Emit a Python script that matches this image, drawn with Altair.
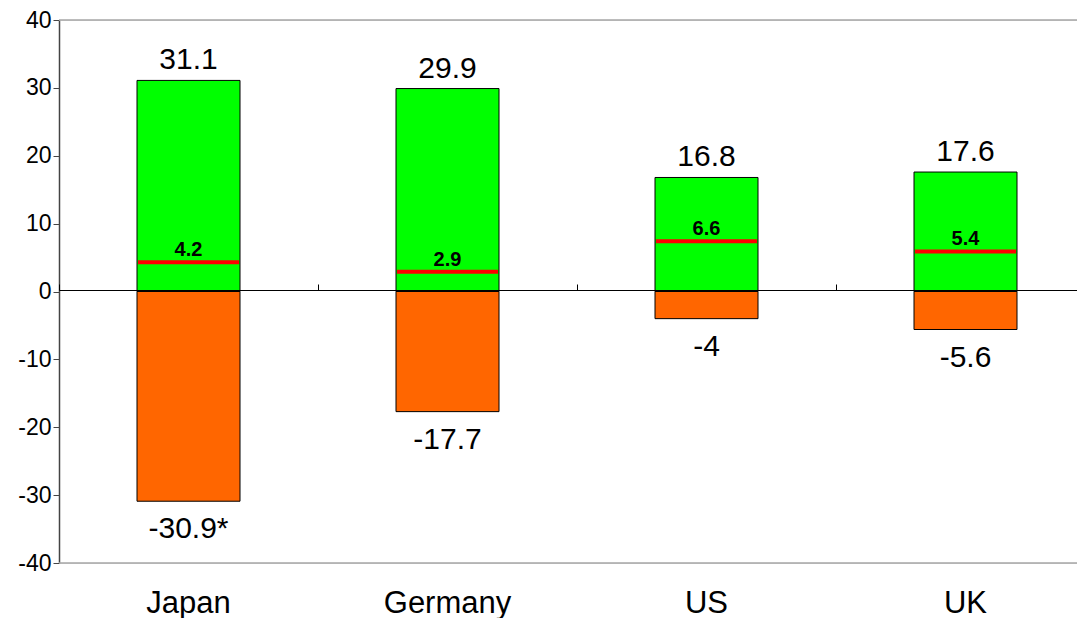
import altair as alt
import pandas as pd

countries = ["Japan", "Germany", "US", "UK"]
pos_vals = [31.1, 29.9, 16.8, 17.6]
neg_vals = [-30.9, -17.7, -4.0, -5.6]
pos_labels = ["31.1", "29.9", "16.8", "17.6"]
neg_labels = ["-30.9*", "-17.7", "-4", "-5.6"]
mark_vals = [4.3, 2.9, 7.4, 5.9]
mark_labels = ["4.2", "2.9", "6.6", "5.4"]
frame_vals = [40, -40]
y_ticks = [-40, -30, -20, -10, 0, 10, 20, 30, 40]

df = pd.DataFrame({
    "country": countries,
    "pos": pos_vals,
    "neg": neg_vals,
    "pos_label": pos_labels,
    "neg_label": neg_labels,
    "mark": mark_vals,
    "mark_label": mark_labels,
})
frame_df = pd.DataFrame({"v": frame_vals})

FONT = "Liberation Sans"
BAR_W = 103

yscale = alt.Scale(domain=[-40, 40], nice=False)
xscale = alt.Scale(range=[0, 1036], paddingInner=0, paddingOuter=0)

def xenc(axis):
    return alt.X("country:N", sort=countries, scale=xscale, axis=axis)

frame = alt.Chart(frame_df).mark_rule(color="#a6a6a6", strokeWidth=1.5).encode(
    y=alt.Y("v:Q", scale=yscale, axis=alt.Axis(
        values=y_ticks, title=None, grid=False, labelFontSize=23, labelFont=FONT,
        labelColor="black", tickSize=6, tickColor="#444", domainColor="#444",
        labelPadding=2, labelBaseline="middle", domainWidth=1.5, labelFlush=False,
        labelOverlap=False, labelExpr="'' + datum.value")),
)

pos_bars = alt.Chart(df).mark_bar(size=BAR_W, color="#00ff00", stroke="black", strokeWidth=1).encode(
    x=xenc(alt.Axis(title=None, ticks=False, domain=False, labelFontSize=31, labelFont=FONT,
                    labelColor="black", labelAngle=0, labelPadding=49, labelBaseline="alphabetic")),
    y=alt.Y("pos:Q", scale=yscale, axis=None),
)

neg_bars = alt.Chart(df).mark_bar(size=BAR_W, color="#ff6600", stroke="black", strokeWidth=1).encode(
    x=xenc(alt.Axis(title=None, labels=False, ticks=True, tickBand="extent", tickSize=6,
                    tickColor="black", domainColor="black", domainWidth=1, offset=-270, zindex=1)),
    y=alt.Y("neg:Q", scale=yscale, axis=None),
)

red = alt.Chart(df).mark_tick(color="#ff0000", thickness=4, size=BAR_W - 2, opacity=1).encode(
    x=xenc(None),
    y=alt.Y("mark:Q", scale=yscale, axis=None),
)

red_text = alt.Chart(df).mark_text(fontSize=20, fontWeight="bold", font=FONT, baseline="alphabetic", dy=-6, color="black").encode(
    x=xenc(None),
    y=alt.Y("mark:Q", scale=yscale, axis=None),
    text="mark_label:N",
)

pos_text = alt.Chart(df).mark_text(fontSize=30, font=FONT, baseline="alphabetic", dy=-11, color="black").encode(
    x=xenc(None),
    y=alt.Y("pos:Q", scale=yscale, axis=None),
    text="pos_label:N",
)

neg_text = alt.Chart(df).mark_text(fontSize=30, font=FONT, baseline="alphabetic", dy=37, color="black").encode(
    x=xenc(None),
    y=alt.Y("neg:Q", scale=yscale, axis=None),
    text="neg_label:N",
)

chart = alt.layer(frame, pos_bars, neg_bars, red, red_text, pos_text, neg_text).resolve_axis(
    x="independent", y="independent"
).properties(
    width=1018, height=543, autosize="none",
    padding={"left": 59, "top": 20, "right": 0, "bottom": 55},
).configure_view(stroke=None).configure(background="white")

chart.save("out.html", embed_options={"renderer": "svg", "actions": False})
